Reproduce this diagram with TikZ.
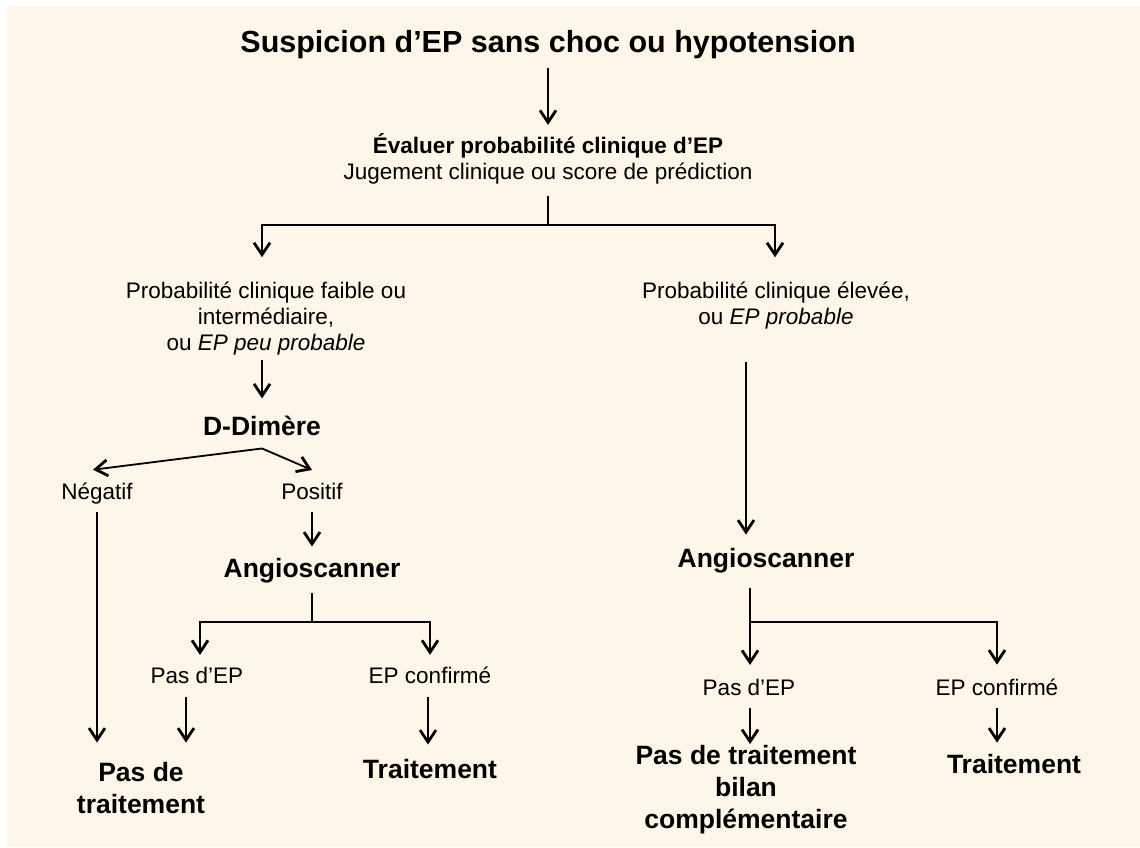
\documentclass[tikz,border=0pt]{standalone}
\usepackage{fontspec}
\setmainfont{Liberation Sans}
\usetikzlibrary{arrows.meta}

\definecolor{bgbeige}{RGB}{253,246,233}
\newcommand{\titlefont}{\fontsize{30.5}{34}\selectfont\bfseries}
\newcommand{\plainfont}{\fontsize{22.5}{26}\selectfont}
\newcommand{\boldfont}{\fontsize{26.5}{32}\selectfont\bfseries}

\begin{document}
\begin{tikzpicture}[x=1pt,y=-1pt,
    every node/.style={inner sep=0pt, anchor=base, align=center},
    tit/.style={font=\titlefont},
    txt/.style={font=\plainfont},
    bld/.style={font=\boldfont},
    ln/.style={line width=1.8pt},
    arr/.style={ln, -{Straight Barb[length=12pt,width=16pt,line width=2.8pt]}}]

    % page
    \useasboundingbox (0,0) rectangle (1140,847);
    \fill[bgbeige] (7,6) rectangle (1140,847);

    % Top (multi-line nodes sit on their last baseline)
    \node[tit] (titre) at (548,52) {Suspicion d’EP sans choc ou hypotension};
    \node[txt] (eval) at (548,179) {\textbf{Évaluer probabilité clinique d’EP}\\Jugement clinique ou score de prédiction};
    \draw[arr, shorten <=9.6pt, shorten >=8pt] (titre.south) -- (eval.north);

    % Probabilites
    \node[txt] (probL) at (266,350) {Probabilité clinique faible ou\\intermédiaire,\\ou \textit{EP peu probable}};
    \node[txt] (probR) at (776,324) {Probabilité clinique élevée,\\ou \textit{EP probable}};
    \coordinate (jE) at (548,225);
    \draw[ln, shorten <=12pt] (eval.south) -- (jE);
    \draw[arr, shorten >=24pt] (jE) -| ([xshift=-4pt]probL.north);
    \draw[arr, shorten >=24pt] (jE) -| ([xshift=-1pt]probR.north);

    % Left branch
    \node[bld] (dd) at (262,435) {D-Dimère};
    \draw[arr, shorten <=5pt, shorten >=17pt] ([xshift=-4pt]probL.south) -- ([xshift=-4pt]probL.south |- dd.north);
    \node[txt] (neg) at (97,499) {Négatif};
    \node[txt] (pos) at (312,499) {Positif};
    \draw[arr] ([yshift=-13pt]dd.south) -- ([xshift=-4pt,yshift=12.5pt]neg.north);
    \draw[arr] ([yshift=-13pt]dd.south) -- ([yshift=12.5pt]pos.north);

    \node[bld] (angL) at (312,577) {Angioscanner};
    \draw[arr, shorten <=13pt, shorten >=11pt] (pos.south) -- (angL.north);

    \node[txt] (noepL) at (197,683) {Pas d’EP};
    \node[txt] (confL) at (430,683) {EP confirmé};
    \coordinate (jA) at (312,622);
    \draw[ln, shorten <=10pt] (angL.south) -- (jA);
    \draw[arr, shorten >=11.6pt] (jA) -| ([xshift=3pt]noepL.north);
    \draw[arr, shorten >=11.4pt] (jA) -| (confL.north);

    \node[bld] (notrtL) at (141,813) {Pas de\\traitement};
    \node[bld] (trtL) at (430,778) {Traitement};
    \draw[arr, shorten <=8pt, shorten >=19pt] (neg.south) -- (neg.south |- notrtL.north);
    \draw[arr, shorten <=14pt, shorten >=19pt] ([xshift=-11pt]noepL.south) -- ([xshift=-11pt]noepL.south |- notrtL.north);
    \draw[arr, shorten <=14pt, shorten >=14pt] ([xshift=-2pt]confL.south) -- ([xshift=-2pt]confL.south |- trtL.north);

    % Right branch
    \node[bld] (angR) at (766,567) {Angioscanner};
    \draw[arr, shorten <=33pt, shorten >=13pt] ([xshift=-30pt]probR.south) -- ([xshift=-30pt]probR.south |- angR.north);

    \node[txt] (noepR) at (749,695) {Pas d’EP};
    \node[txt] (confR) at (997,695) {EP confirmé};
    \coordinate (jR) at (750,622);
    \draw[arr, shorten <=15pt, shorten >=13.6pt] ([xshift=-16pt]angR.south) -- ([xshift=1pt]noepR.north);
    \draw[arr, shorten >=13.6pt] (jR) -| (confR.north);

    \node[bld] (notrtR) at (746,828) {Pas de traitement\\bilan\\complémentaire};
    \node[bld] (trtR) at (1014,773) {Traitement};
    \draw[arr, shorten <=13pt, shorten >=0.5pt] ([xshift=1pt]noepR.south) -- ([xshift=1pt]noepR.south |- notrtR.north);
    \draw[arr, shorten <=13pt, shorten >=11pt] (confR.south) -- (confR.south |- trtR.north);
\end{tikzpicture}
\end{document}
